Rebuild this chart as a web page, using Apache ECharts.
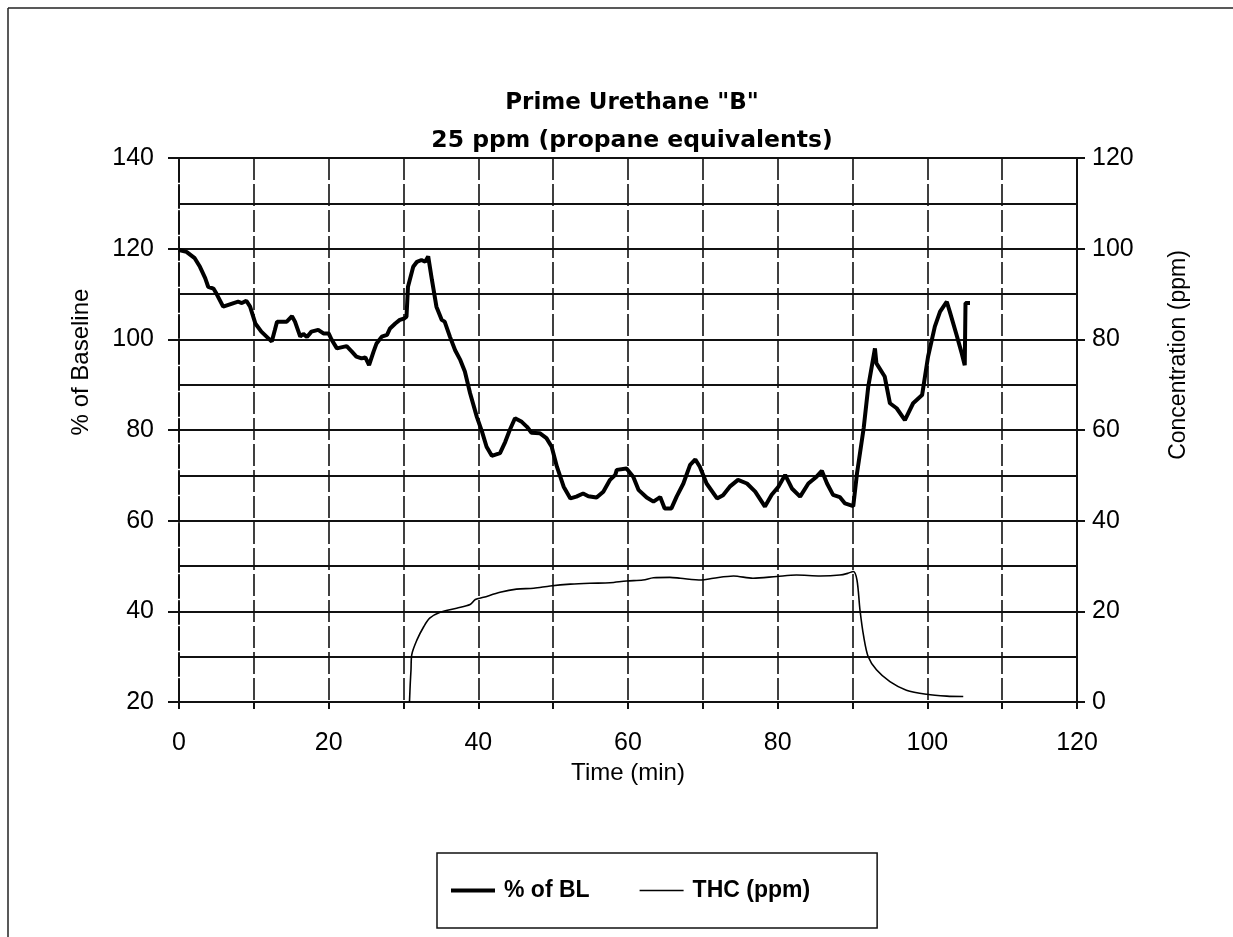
<!DOCTYPE html>
<html>
<head>
<meta charset="utf-8">
<script src="https://cdn.jsdelivr.net/npm/echarts@6/dist/echarts.min.js"></script>
<style>
html,body{margin:0;padding:0;background:#fff;}
#chart{width:1233px;height:937px;}
</style>
</head>
<body>
<div id="chart"></div>
<script>
// ---- data ----
const titleText = 'Prime Urethane "B"';
const subtitleText = '25 ppm (propane equivalents)';
const seriesNames = ['% of BL', 'THC (ppm)'];

// % of baseline (left axis)
const blTime = [0,1,2.1,2.8,3.5,3.9,4.6,5,5.9,6.6,
  7.3,7.9,8.4,9,9.5,10.2,11,11.7,12.4,12.8,
  13.1,13.7,14.4,15.1,15.5,16.2,16.6,17.1,17.7,18.6,
  19.3,20,20.4,21.1,22.4,23.1,23.7,24.4,24.9,25.4,
  26,26.4,27.1,27.8,28.2,28.9,29.5,30.1,30.4,30.6,
  31.3,31.8,32.4,32.9,33.3,33.8,34.4,35.1,35.5,36.2,
  36.9,37.6,38.2,38.9,39.8,40.5,41.1,41.8,42.9,43.6,
  44.2,44.9,45.8,46.5,47.1,48.2,49.1,49.8,50.5,51.4,
  52.3,53.1,54,54.7,55.8,56.7,57.6,58.3,58.5,59.8,
  60.7,61.4,62.5,63.4,64.3,64.9,65.8,66.5,67.4,68.3,
  69,69.6,70.5,71.9,72.7,73.6,74.7,75.9,77,78.3,
  79.2,80.1,81,81.9,83,84.1,85.2,85.9,86.6,87.4,
  88.3,89,90.1,90.6,91.5,92.1,93,93.2,94.3,95,
  95.9,97,98.1,99.3,100.1,101,101.7,102.6,103,103.9,
  104.6,105,105.1,105.7];
const blValue = [119.7,119.3,117.9,116,113.5,111.6,111.2,110.1,107.2,107.6,
  108,108.3,108,108.5,107.2,103.5,101.7,100.6,99.5,102,
  103.9,103.9,103.9,105.1,103.9,100.6,101.2,100.5,101.7,102.1,
  101.3,101.3,99.9,98,98.5,97.3,96.2,95.8,96,94.3,
  97.3,99.1,100.6,101,102.4,103.5,104.3,104.6,105,111.6,
  116,117.1,117.5,117.1,118.3,113.1,107.2,104.3,103.9,100.6,
  97.6,95.4,92.9,88.1,82.9,79.6,76.3,74.3,74.9,77.4,
  80,82.6,81.8,80.7,79.4,79.3,78.2,76.3,71.9,67.5,
  64.9,65.3,66,65.4,65.1,66.4,69,70.1,71.2,71.5,
  69.7,66.8,65.1,64.2,65.2,62.7,62.7,65.3,68.2,72.3,
  73.5,71.9,68.2,64.9,65.6,67.5,69,68.2,66.4,63.1,
  65.7,67.5,70.1,67.1,65.3,68.2,69.7,71,68.2,65.7,
  65.2,63.8,63.2,70.4,80.5,89.5,98,94.7,91.8,85.9,
  84.8,82.2,85.9,87.7,96.2,102.8,106.1,108.3,106.1,101,
  96.9,94.3,108,108];

// THC concentration (right axis)
const thcTime = [30.8,30.9,31.0,31.1,31.8,32.7,33.5,34.9,37.1,38.9,
  39.6,40.7,42.9,45.1,47.4,49.6,52.3,54.9,57.6,59.8,
  62,63.4,65.6,67,69.8,71.4,74.1,76.7,79.9,82.5,
  85.7,88.3,89.4,90.1,90.6,91,91.5,92.1,93.2,95,
  97.2,99.9,102.6,104.8];
const thcValue = [0,4,7,10.4,13.7,16.6,18.5,19.8,20.7,21.5,
  22.6,23.1,24.2,24.9,25.1,25.6,26,26.2,26.3,26.7,
  26.9,27.4,27.5,27.3,26.9,27.3,27.8,27.3,27.7,28,
  27.8,28,28.4,28.8,26.9,20.3,14.4,10,7.1,4.5,
  2.6,1.7,1.3,1.2];

const xAxisName = 'Time (min)';
const leftAxisName = '% of Baseline';
const rightAxisName = 'Concentration (ppm)';

// ---- chart ----
const FONT = '"Liberation Sans", Arial, sans-serif';
const TFONT = '"DejaVu Sans", "Liberation Sans", sans-serif';
const pairs = (xs, ys) => xs.map((x, i) => [x, ys[i]]);
const chart = echarts.init(document.getElementById('chart'), null, {renderer: 'canvas'});
const gridLine = {show: true, lineStyle: {color: '#111', width: 2}};
const vLine = {show: true, lineStyle: {color: '#111', width: 1.6, type: [22, 4]}};

chart.setOption({
  backgroundColor: '#fff',
  animation: false,
  title: [
    {text: titleText, left: 627, textAlign: 'center', top: 87,
     textStyle: {fontFamily: TFONT, fontWeight: 'bold', fontSize: 23, color: '#000'}},
    {text: subtitleText, left: 627, textAlign: 'center', top: 124,
     textStyle: {fontFamily: TFONT, fontWeight: 'bold', fontSize: 23.5, color: '#000'}}
  ],
  graphic: [
    {type: 'line', shape: {x1: 8, y1: 8, x2: 1233, y2: 8}, style: {stroke: '#222', lineWidth: 1.5}},
    {type: 'line', shape: {x1: 8, y1: 8, x2: 8, y2: 937}, style: {stroke: '#222', lineWidth: 1.5}}
  ],
  legend: {
    left: 437, top: 853,
    data: [
      {name: seriesNames[0], icon: 'path://M0,0L50,0L50,4.5L0,4.5Z'},
      {name: seriesNames[1], icon: 'path://M0,0L50,0L50,1.6L0,1.6Z'}
    ],
    padding: [26, 67, 26, 14],
    itemGap: 50,
    itemWidth: 44, itemHeight: 14,
    symbolKeepAspect: true,
    borderColor: '#111', borderWidth: 1.5,
    textStyle: {fontFamily: FONT, fontWeight: 'bold', fontSize: 23, color: '#000', padding: [0, 0, 0, 4]}
  },
  grid: {left: 179, right: 156, top: 158, bottom: 235, containLabel: false},
  xAxis: {
    type: 'value', min: 0, max: 120, interval: 20,
    name: xAxisName, nameLocation: 'middle', nameGap: 58,
    nameTextStyle: {fontFamily: FONT, fontSize: 24, color: '#000'},
    axisLine: {show: true, lineStyle: {color: '#111', width: 2}},
    axisTick: {show: true, inside: false, length: 7, lineStyle: {color: '#111', width: 2}},
    minorTick: {show: true, splitNumber: 2, length: 7, lineStyle: {color: '#111', width: 2}},
    splitLine: vLine,
    minorSplitLine: vLine,
    axisLabel: {fontFamily: FONT, fontSize: 25, color: '#000', margin: 29}
  },
  yAxis: [
    {
      type: 'value', min: 20, max: 140, interval: 20, position: 'left',
      name: leftAxisName, nameLocation: 'middle', nameGap: 86, nameRotate: 90,
      nameTextStyle: {fontFamily: FONT, fontSize: 24, color: '#000', padding: [0, 0, 0, 136]},
      axisLine: {show: true, lineStyle: {color: '#111', width: 2, type: [22, 4]}},
      axisTick: {show: true, length: 11, lineStyle: {color: '#111', width: 2}},
      minorTick: {show: false, splitNumber: 2},
      splitLine: gridLine,
      minorSplitLine: gridLine,
      axisLabel: {fontFamily: FONT, fontSize: 25, color: '#000', margin: 25}
    },
    {
      type: 'value', min: 0, max: 120, interval: 20, position: 'right',
      name: rightAxisName, nameLocation: 'middle', nameGap: 90, nameRotate: 90,
      nameTextStyle: {fontFamily: FONT, fontSize: 23, color: '#000', padding: [0, 0, 0, 150]},
      axisLine: {show: true, lineStyle: {color: '#111', width: 2}},
      axisTick: {show: true, length: 8, lineStyle: {color: '#111', width: 2}},
      splitLine: {show: false},
      axisLabel: {fontFamily: FONT, fontSize: 25, color: '#000', margin: 15}
    }
  ],
  series: [
    {
      name: seriesNames[0], type: 'line', yAxisIndex: 0,
      data: pairs(blTime, blValue),
      symbol: 'none', showSymbol: false, smooth: false,
      lineStyle: {color: '#000', width: 4}, itemStyle: {color: '#000'},
      z: 5
    },
    {
      name: seriesNames[1], type: 'line', yAxisIndex: 1,
      data: pairs(thcTime, thcValue),
      symbol: 'none', showSymbol: false, smooth: 0.3,
      lineStyle: {color: '#000', width: 1.6}, itemStyle: {color: '#000'},
      z: 4
    }
  ]
});
</script>
</body>
</html>
